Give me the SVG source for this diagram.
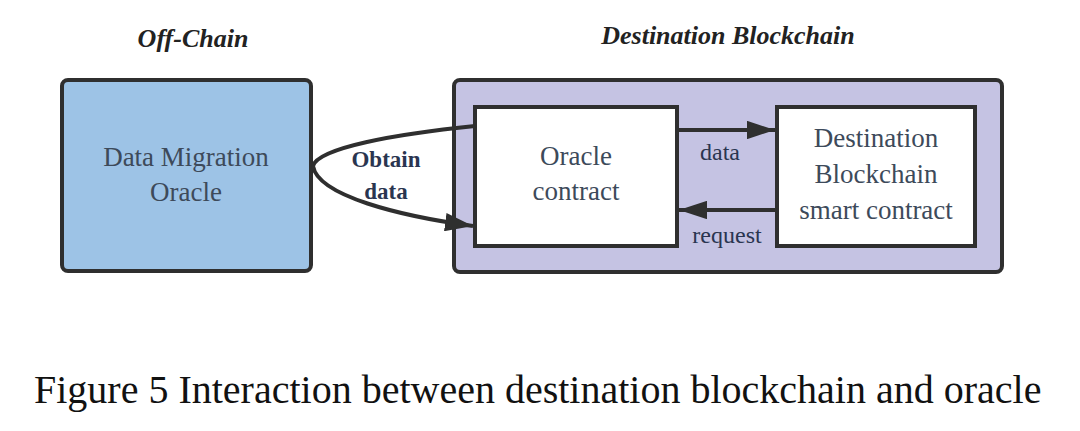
<svg xmlns="http://www.w3.org/2000/svg" width="1080" height="431" viewBox="0 0 1080 431">
<style>
.box{stroke:#2f2f2f;stroke-width:4}
.conn{fill:none;stroke:#2f2f2f;stroke-width:4}
</style>
<defs>
<marker id="ah" viewBox="0 0 10 10" refX="10" refY="5" markerWidth="7" markerHeight="4.6" markerUnits="strokeWidth" orient="auto" preserveAspectRatio="none">
<path d="M0,0 L10,5 L0,10 z" fill="#2f2f2f"/>
</marker>
</defs>
<rect width="1080" height="431" fill="#fff"/>
<text x="193" y="47" font-family="Liberation Serif" font-size="26" font-weight="bold" font-style="italic" text-anchor="middle" fill="#222">Off-Chain</text>
<text x="728" y="44" font-family="Liberation Serif" font-size="26" font-weight="bold" font-style="italic" text-anchor="middle" fill="#222">Destination Blockchain</text>
<g id="offchain">
<rect class="box" x="62" y="80" width="249" height="191" rx="6" fill="#9dc3e6"/>
<text x="186" y="166" font-family="Liberation Serif" font-size="27" text-anchor="middle" fill="#3d4a5a">Data Migration</text>
<text x="186" y="201" font-family="Liberation Serif" font-size="27" text-anchor="middle" fill="#3d4a5a">Oracle</text>
</g>
<g id="destination-blockchain">
<rect class="box" x="454" y="80" width="548" height="192" rx="6" fill="#c5c3e3"/>
</g>
<g id="oracle-contract">
<rect class="box" x="475" y="107" width="202" height="139" fill="#fff"/>
<text x="576" y="165" font-family="Liberation Serif" font-size="27" text-anchor="middle" fill="#3d4a5a">Oracle</text>
<text x="576" y="200" font-family="Liberation Serif" font-size="27" text-anchor="middle" fill="#3d4a5a">contract</text>
</g>
<g id="dest-contract">
<rect class="box" x="777" y="107" width="198" height="139" fill="#fff"/>
<text x="876" y="147" font-family="Liberation Serif" font-size="27" text-anchor="middle" fill="#3d4a5a">Destination</text>
<text x="876" y="183" font-family="Liberation Serif" font-size="27" text-anchor="middle" fill="#3d4a5a">Blockchain</text>
<text x="876" y="219" font-family="Liberation Serif" font-size="27" text-anchor="middle" fill="#3d4a5a">smart contract</text>
</g>
<g id="connectors">
<path class="conn" d="M475,126 C395,134 318,148 313,166 C318,196 400,216 473,226" marker-end="url(#ah)"/>
<path class="conn" d="M677,130 L775,130" marker-end="url(#ah)"/>
<path class="conn" d="M777,210 L679,210" marker-end="url(#ah)"/>
<text x="386" y="167" font-family="Liberation Serif" font-size="23" font-weight="bold" text-anchor="middle" fill="#2a3550">Obtain</text>
<text x="386" y="199" font-family="Liberation Serif" font-size="23" font-weight="bold" text-anchor="middle" fill="#2a3550">data</text>
<text x="720" y="160" font-family="Liberation Serif" font-size="24" text-anchor="middle" fill="#2a3550">data</text>
<text x="727" y="243" font-family="Liberation Serif" font-size="24" text-anchor="middle" fill="#2a3550">request</text>
</g>
<text x="34" y="403" font-family="Liberation Serif" font-size="40" fill="#111">Figure 5 Interaction between destination blockchain and oracle</text>
</svg>
